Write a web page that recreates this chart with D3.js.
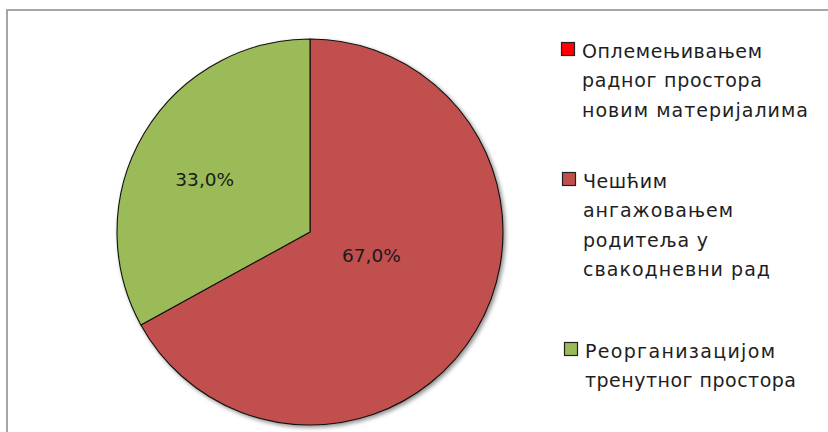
<!DOCTYPE html>
<html>
<head>
<meta charset="utf-8">
<script src="https://cdn.jsdelivr.net/npm/d3@7"></script>
<style>
  html, body { margin: 0; padding: 0; background: #fff; }
  svg { display: block; }
</style>
</head>
<body>
<svg id="chart" width="828" height="432"></svg>
<script>
// ---- data ----
const categories = [
  ["Оплемењивањем", "радног простора", "новим материјалима"],
  ["Чешћим", "ангажовањем", "родитеља у", "свакодневни рад"],
  ["Реорганизацијом", "тренутног простора"]
];
const values = [0, 67.0, 33.0];
const colors = ["#FF0000", "#C0504D", "#9BBB59"];

// ---- layout ----
const W = 828, H = 432;
const cx = 310, cy = 232, R = 193;
const labelLayout = [null, { frac: 0.34, dAngle: -10 }, { frac: 0.61, dAngle: -4 }];
const legendTops = [42, 172, 342];
const legendX = [561, 562, 564];
const legendLineWidths = [[180, 180, 226], [84, 150, 125, 187], [190, 211]];
const lineGap = 29.5;

const svg = d3.select("#chart");

// frame
svg.append("rect")
  .attr("x", 7).attr("y", 10)
  .attr("width", W).attr("height", H)
  .attr("fill", "#fff")
  .attr("stroke", "#a6a6a6")
  .attr("stroke-width", 2);

const defs = svg.append("defs");
const f = defs.append("filter").attr("id", "shadow")
  .attr("x", "-10%").attr("y", "-10%").attr("width", "120%").attr("height", "120%");
f.append("feGaussianBlur").attr("in", "SourceAlpha").attr("stdDeviation", 2).attr("result", "b");
f.append("feOffset").attr("in", "b").attr("dx", 2).attr("dy", 2).attr("result", "o");
f.append("feComponentTransfer").attr("in", "o").attr("result", "o2")
  .append("feFuncA").attr("type", "linear").attr("slope", 0.45);
const m = f.append("feMerge");
m.append("feMergeNode").attr("in", "o2");
m.append("feMergeNode").attr("in", "SourceGraphic");

const pie = d3.pie().sort(null).value(d => d);
const arcs = pie(values);
const arc = d3.arc().innerRadius(0).outerRadius(R);

const g = svg.append("g").attr("transform", `translate(${cx},${cy})`);
const slices = g.append("g").attr("filter", "url(#shadow)");
slices.selectAll("path")
  .data(arcs.filter(a => a.value > 0))
  .join("path")
  .attr("d", arc)
  .attr("fill", d => colors[d.index])
  .attr("stroke", "#111")
  .attr("stroke-width", 1.1)
  .attr("stroke-linejoin", "round");

// labels
arcs.forEach((a, i) => {
  if (!labelLayout[i] || a.value <= 0) return;
  const mid = (a.startAngle + a.endAngle) / 2 + labelLayout[i].dAngle * Math.PI / 180;
  const [x, y] = d3.pointRadial(mid, R * labelLayout[i].frac);
  g.append("text")
    .attr("x", x).attr("y", y)
    .attr("text-anchor", "middle")
    .attr("dominant-baseline", "central")
    .attr("font-family", "DejaVu Sans, Verdana, sans-serif")
    .attr("font-size", 18.5)
    .attr("fill", "#1a1a1a")
    .text(d3.format(".1f")(a.value).replace(".", ",") + "%");
});

// legend
categories.forEach((lines, i) => {
  const top = legendTops[i];
  const x0 = legendX[i];
  svg.append("rect")
    .attr("x", x0 + 0.5).attr("y", top + 0.5)
    .attr("width", 13).attr("height", 13)
    .attr("fill", colors[i])
    .attr("stroke", "#222").attr("stroke-width", 1.2);
  const t = svg.append("text")
    .attr("font-family", "DejaVu Sans, Verdana, sans-serif")
    .attr("font-size", 19)
    .attr("fill", "#1e1e1e");
  lines.forEach((ln, j) => {
    t.append("tspan")
      .attr("x", x0 + 21)
      .attr("y", top + 15.5 + j * lineGap)
      .attr("textLength", legendLineWidths[i][j])
      .attr("lengthAdjust", "spacing")
      .text(ln);
  });
});
</script>
</body>
</html>
